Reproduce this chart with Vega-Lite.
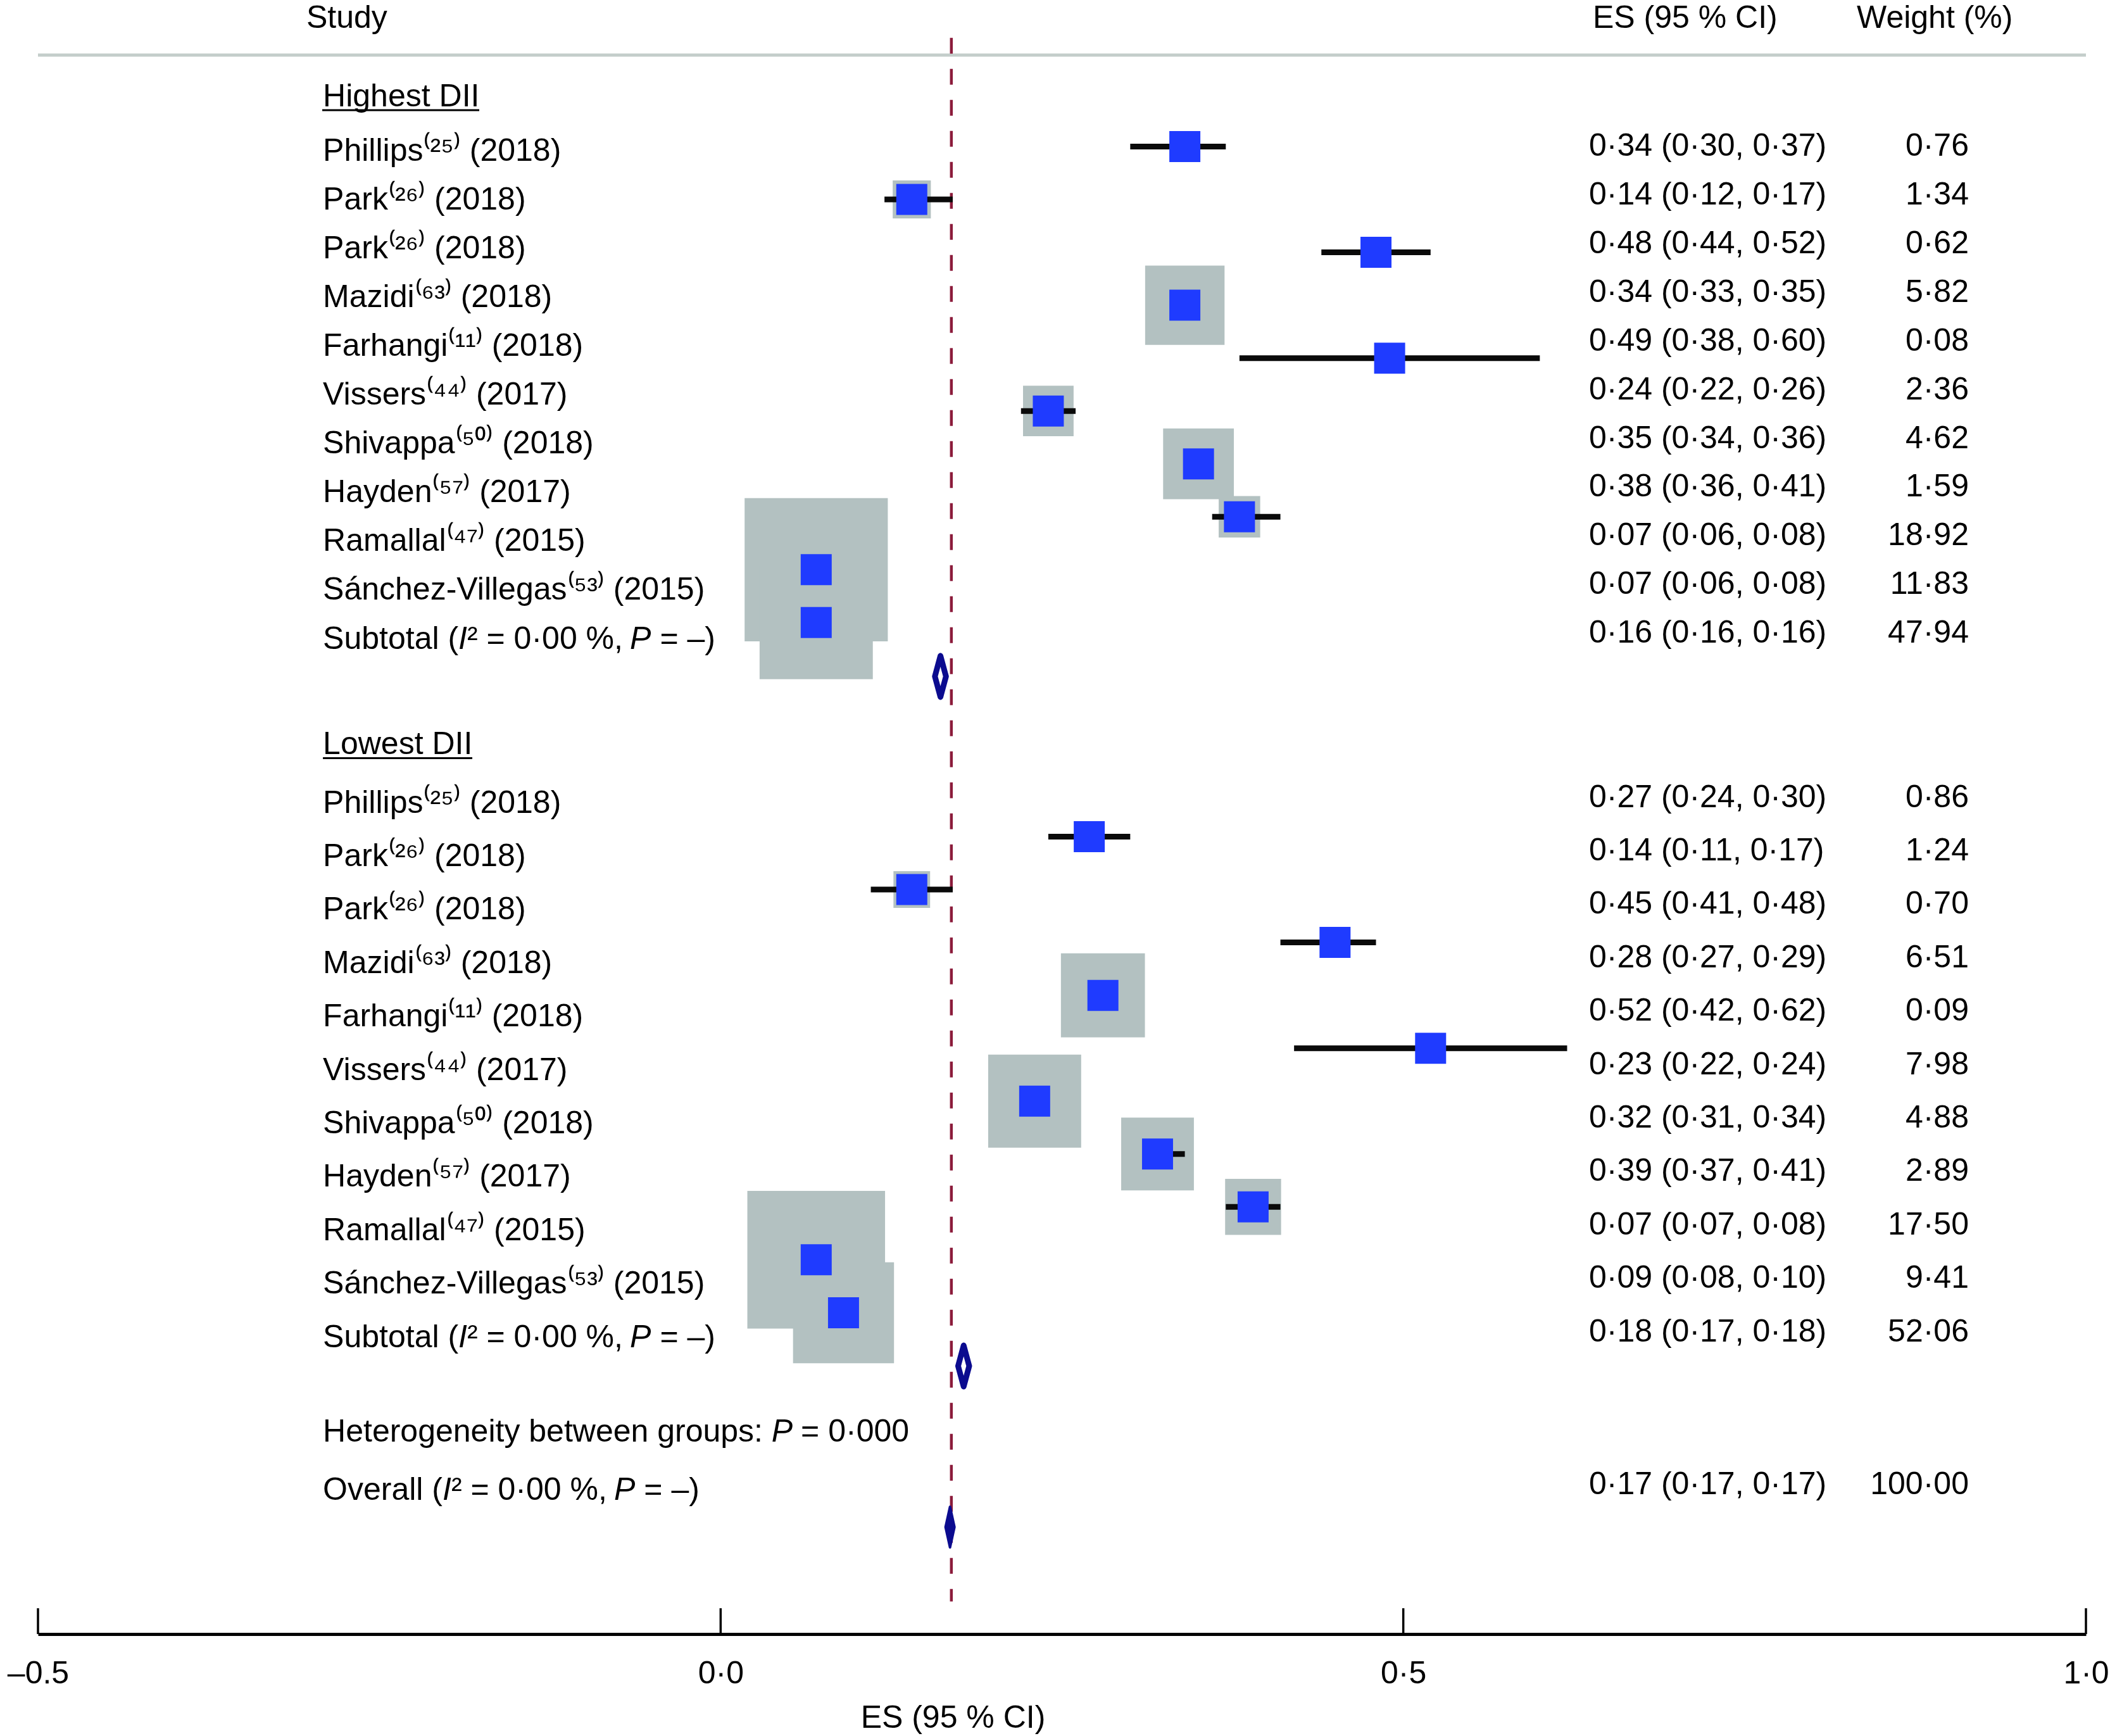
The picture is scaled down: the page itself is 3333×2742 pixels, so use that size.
{
  "$schema": "https://vega.github.io/schema/vega-lite/v6.json",
  "width": 3235,
  "height": 2581,
  "autosize": {"type": "none"},
  "padding": {"left": 60, "top": 0, "right": 38, "bottom": 161},
  "background": "white",
  "config": {"view": {"stroke": null}, "font": "Liberation Sans"},
  "datasets": {
    "studies": [
      {"grp": "Highest DII", "study": "Phillips (2018)", "es": 0.34, "lo": 0.30, "hi": 0.37, "w": 0.76, "ym": 10.89},
      {"grp": "Highest DII", "study": "Park (2018) a", "es": 0.14, "lo": 0.12, "hi": 0.17, "w": 1.34, "ym": 14.82},
      {"grp": "Highest DII", "study": "Park (2018) b", "es": 0.48, "lo": 0.44, "hi": 0.52, "w": 0.62, "ym": 18.75},
      {"grp": "Highest DII", "study": "Mazidi (2018)", "es": 0.34, "lo": 0.33, "hi": 0.35, "w": 5.82, "ym": 22.68},
      {"grp": "Highest DII", "study": "Farhangi (2018)", "es": 0.49, "lo": 0.38, "hi": 0.60, "w": 0.08, "ym": 26.61},
      {"grp": "Highest DII", "study": "Vissers (2017)", "es": 0.24, "lo": 0.22, "hi": 0.26, "w": 2.36, "ym": 30.54},
      {"grp": "Highest DII", "study": "Shivappa (2018)", "es": 0.35, "lo": 0.34, "hi": 0.36, "w": 4.62, "ym": 34.47},
      {"grp": "Highest DII", "study": "Hayden (2017)", "es": 0.38, "lo": 0.36, "hi": 0.41, "w": 1.59, "ym": 38.40},
      {"grp": "Highest DII", "study": "Ramallal (2015)", "es": 0.07, "lo": 0.06, "hi": 0.08, "w": 18.92, "ym": 42.33},
      {"grp": "Highest DII", "study": "Sánchez-Villegas (2015)", "es": 0.07, "lo": 0.06, "hi": 0.08, "w": 11.83, "ym": 46.26},
      {"grp": "Lowest DII", "study": "Phillips (2018)", "es": 0.27, "lo": 0.24, "hi": 0.30, "w": 0.86, "ym": 62.17},
      {"grp": "Lowest DII", "study": "Park (2018) a", "es": 0.14, "lo": 0.11, "hi": 0.17, "w": 1.24, "ym": 66.10},
      {"grp": "Lowest DII", "study": "Park (2018) b", "es": 0.45, "lo": 0.41, "hi": 0.48, "w": 0.70, "ym": 70.03},
      {"grp": "Lowest DII", "study": "Mazidi (2018)", "es": 0.28, "lo": 0.27, "hi": 0.29, "w": 6.51, "ym": 73.96},
      {"grp": "Lowest DII", "study": "Farhangi (2018)", "es": 0.52, "lo": 0.42, "hi": 0.62, "w": 0.09, "ym": 77.89},
      {"grp": "Lowest DII", "study": "Vissers (2017)", "es": 0.23, "lo": 0.22, "hi": 0.24, "w": 7.98, "ym": 81.82},
      {"grp": "Lowest DII", "study": "Shivappa (2018)", "es": 0.32, "lo": 0.31, "hi": 0.34, "w": 4.88, "ym": 85.75},
      {"grp": "Lowest DII", "study": "Hayden (2017)", "es": 0.39, "lo": 0.37, "hi": 0.41, "w": 2.89, "ym": 89.68},
      {"grp": "Lowest DII", "study": "Ramallal (2015)", "es": 0.07, "lo": 0.07, "hi": 0.08, "w": 17.50, "ym": 93.61},
      {"grp": "Lowest DII", "study": "Sánchez-Villegas (2015)", "es": 0.09, "lo": 0.08, "hi": 0.10, "w": 9.41, "ym": 97.54}
    ],
    "pooled": [
      {"name": "Subtotal Highest DII", "kind": "subtotal", "es": 0.161, "ym": 50.26},
      {"name": "Subtotal Lowest DII", "kind": "subtotal", "es": 0.178, "ym": 101.5},
      {"name": "Overall", "kind": "overall", "es": 0.168, "ym": 113.47}
    ],
    "left": [
      {"text": "Highest DII", "y": 7.19},
      {"text": "Phillips⁽²⁵⁾ (2018)", "y": 11.26},
      {"text": "Park⁽²⁶⁾ (2018)", "y": 14.88},
      {"text": "Park⁽²⁶⁾ (2018)", "y": 18.50},
      {"text": "Mazidi⁽⁶³⁾ (2018)", "y": 22.12},
      {"text": "Farhangi⁽¹¹⁾ (2018)", "y": 25.74},
      {"text": "Vissers⁽⁴⁴⁾ (2017)", "y": 29.36},
      {"text": "Shivappa⁽⁵⁰⁾ (2018)", "y": 32.98},
      {"text": "Hayden⁽⁵⁷⁾ (2017)", "y": 36.60},
      {"text": "Ramallal⁽⁴⁷⁾ (2015)", "y": 40.22},
      {"text": "Sánchez-Villegas⁽⁵³⁾ (2015)", "y": 43.84},
      {"text": "Subtotal (", "y": 47.5},
      {"text": "Lowest DII", "y": 55.33},
      {"text": "Phillips⁽²⁵⁾ (2018)", "y": 59.68},
      {"text": "Park⁽²⁶⁾ (2018)", "y": 63.65},
      {"text": "Park⁽²⁶⁾ (2018)", "y": 67.62},
      {"text": "Mazidi⁽⁶³⁾ (2018)", "y": 71.59},
      {"text": "Farhangi⁽¹¹⁾ (2018)", "y": 75.56},
      {"text": "Vissers⁽⁴⁴⁾ (2017)", "y": 79.53},
      {"text": "Shivappa⁽⁵⁰⁾ (2018)", "y": 83.50},
      {"text": "Hayden⁽⁵⁷⁾ (2017)", "y": 87.47},
      {"text": "Ramallal⁽⁴⁷⁾ (2015)", "y": 91.44},
      {"text": "Sánchez-Villegas⁽⁵³⁾ (2015)", "y": 95.41},
      {"text": "Subtotal (", "y": 99.4},
      {"text": "Heterogeneity between groups:", "y": 106.43},
      {"text": "Overall (", "y": 110.73}
    ],
    "stats": [
      {"line": "sub", "i": "I", "mid": "² = 0·00 %,", "p": "P", "end": "= –)", "y": 47.5},
      {"line": "sub", "i": "I", "mid": "² = 0·00 %,", "p": "P", "end": "= –)", "y": 99.4},
      {"line": "overall", "i": "I", "mid": "² = 0·00 %,", "p": "P", "end": "= –)", "y": 110.73},
      {"line": "het", "i": "", "mid": "", "p": "P", "end": "= 0·000", "y": 106.43}
    ],
    "right": [
      {"ci": "0·34 (0·30, 0·37)", "wt": "0·76", "y": 10.86},
      {"ci": "0·14 (0·12, 0·17)", "wt": "1·34", "y": 14.48},
      {"ci": "0·48 (0·44, 0·52)", "wt": "0·62", "y": 18.10},
      {"ci": "0·34 (0·33, 0·35)", "wt": "5·82", "y": 21.72},
      {"ci": "0·49 (0·38, 0·60)", "wt": "0·08", "y": 25.34},
      {"ci": "0·24 (0·22, 0·26)", "wt": "2·36", "y": 28.96},
      {"ci": "0·35 (0·34, 0·36)", "wt": "4·62", "y": 32.58},
      {"ci": "0·38 (0·36, 0·41)", "wt": "1·59", "y": 36.20},
      {"ci": "0·07 (0·06, 0·08)", "wt": "18·92", "y": 39.82},
      {"ci": "0·07 (0·06, 0·08)", "wt": "11·83", "y": 43.44},
      {"ci": "0·16 (0·16, 0·16)", "wt": "47·94", "y": 47.06},
      {"ci": "0·27 (0·24, 0·30)", "wt": "0·86", "y": 59.26},
      {"ci": "0·14 (0·11, 0·17)", "wt": "1·24", "y": 63.23},
      {"ci": "0·45 (0·41, 0·48)", "wt": "0·70", "y": 67.20},
      {"ci": "0·28 (0·27, 0·29)", "wt": "6·51", "y": 71.17},
      {"ci": "0·52 (0·42, 0·62)", "wt": "0·09", "y": 75.14},
      {"ci": "0·23 (0·22, 0·24)", "wt": "7·98", "y": 79.11},
      {"ci": "0·32 (0·31, 0·34)", "wt": "4·88", "y": 83.08},
      {"ci": "0·39 (0·37, 0·41)", "wt": "2·89", "y": 87.05},
      {"ci": "0·07 (0·07, 0·08)", "wt": "17·50", "y": 91.02},
      {"ci": "0·09 (0·08, 0·10)", "wt": "9·41", "y": 94.99},
      {"ci": "0·18 (0·17, 0·18)", "wt": "52·06", "y": 98.96},
      {"ci": "0·17 (0·17, 0·17)", "wt": "100·00", "y": 110.31}
    ],
    "ticks": [{"t": -0.5}, {"t": 0}, {"t": 0.5}, {"t": 1}]
  },
  "layer": [
    {
      "data": {"name": "ticks"},
      "mark": {"type": "rule", "color": "black", "strokeWidth": 3.5},
      "encoding": {
        "x": {"field": "t", "type": "quantitative", "scale": {"domain": [-0.5, 1], "nice": false, "zero": false},
          "axis": {"values": [-0.5, 0, 0.5, 1], "labelExpr": "datum.value == -0.5 ? '–0.5' : replace(format(datum.value, '.1f'), '.', '·')",
            "grid": false, "ticks": false, "tickSize": 0, "domainColor": "black", "domainWidth": 5,
            "labelFont": "Liberation Sans", "labelFontSize": 50, "labelColor": "black", "labelPadding": 37, "labelFlush": false,
            "title": "ES (95 % CI)", "titleFont": "Liberation Sans", "titleFontSize": 50, "titleFontWeight": "normal", "titleColor": "black",
            "titleX": 1445, "titleY": 107, "titleAlign": "center", "titleBaseline": "top"}},
        "y": {"datum": 119.5, "type": "quantitative", "scale": {"domain": [0, 121.42], "reverse": true, "nice": false, "zero": false}, "axis": null},
        "y2": {"datum": 121.42}
      }
    },
    {
      "data": {"values": [{}]},
      "mark": {"type": "rule", "color": "#c4cdca", "strokeWidth": 5},
      "encoding": {
        "x": {"datum": -0.5, "type": "quantitative", "title": "ES (95 % CI)"},
        "x2": {"datum": 1},
        "y": {"datum": 4.09, "type": "quantitative", "axis": null}
      }
    },
    {
      "data": {"values": [{}]},
      "mark": {"type": "rule", "color": "#8c1c3c", "strokeWidth": 4.5, "strokeDash": [25, 24], "strokeDashOffset": 36},
      "encoding": {
        "x": {"datum": 0.169, "type": "quantitative", "title": "ES (95 % CI)"},
        "y": {"datum": 2.2, "type": "quantitative", "axis": null},
        "y2": {"datum": 119}
      }
    },
    {
      "data": {"name": "studies"},
      "mark": {"type": "square", "filled": true, "color": "#b3c1c1", "opacity": 1, "strokeWidth": 0},
      "encoding": {
        "x": {"field": "es", "type": "quantitative", "title": "ES (95 % CI)"},
        "y": {"field": "ym", "type": "quantitative", "axis": null},
        "size": {"field": "w", "type": "quantitative", "scale": {"type": "linear", "domain": [0, 20], "range": [0, 54080]}, "legend": null}
      }
    },
    {
      "data": {"name": "studies"},
      "mark": {"type": "rule", "color": "#0a0a0a", "strokeWidth": 9},
      "encoding": {
        "x": {"field": "lo", "type": "quantitative", "title": "ES (95 % CI)"},
        "x2": {"field": "hi"},
        "y": {"field": "ym", "type": "quantitative", "axis": null}
      }
    },
    {
      "data": {"name": "studies"},
      "mark": {"type": "square", "filled": true, "color": "#1f3bff", "opacity": 1, "size": 2400},
      "encoding": {
        "x": {"field": "es", "type": "quantitative", "title": "ES (95 % CI)"},
        "y": {"field": "ym", "type": "quantitative", "axis": null}
      }
    },
    {
      "data": {"name": "pooled"},
      "transform": [{"filter": "datum.kind == 'subtotal'"}],
      "mark": {"type": "point", "shape": "M0,-1L0.27,0L0,1L-0.27,0Z", "filled": true, "fill": "white", "stroke": "#0b0b8f", "strokeWidth": 9, "strokeJoin": "round", "size": 4225, "opacity": 1},
      "encoding": {
        "x": {"field": "es", "type": "quantitative", "title": "ES (95 % CI)"},
        "y": {"field": "ym", "type": "quantitative", "axis": null}
      }
    },
    {
      "data": {"name": "pooled"},
      "transform": [{"filter": "datum.kind == 'overall'"}],
      "mark": {"type": "point", "shape": "M0,-1L0.22,0L0,1L-0.22,0Z", "filled": true, "fill": "#0b0b8f", "stroke": "#0b0b8f", "strokeWidth": 4, "strokeJoin": "round", "size": 4096, "opacity": 1},
      "encoding": {
        "x": {"field": "es", "type": "quantitative", "title": "ES (95 % CI)"},
        "y": {"field": "ym", "type": "quantitative", "axis": null}
      }
    },
    {
      "data": {"name": "left"},
      "mark": {"type": "text", "align": "left", "baseline": "middle", "font": "Liberation Sans", "fontSize": 50, "color": "black"},
      "encoding": {
        "x": {"datum": -0.2913, "type": "quantitative", "title": "ES (95 % CI)"},
        "y": {"field": "y", "type": "quantitative", "axis": null},
        "text": {"field": "text"}
      }
    },
    {
      "data": {"name": "stats"},
      "transform": [{"filter": "datum.line == 'sub'"}],
      "mark": {"type": "text", "align": "left", "baseline": "middle", "font": "Liberation Sans", "fontSize": 50, "fontStyle": "italic", "color": "black"},
      "encoding": {
        "x": {"datum": -0.19207, "type": "quantitative", "title": "ES (95 % CI)"},
        "y": {"field": "y", "type": "quantitative", "axis": null},
        "text": {"field": "i"}
      }
    },
    {
      "data": {"name": "stats"},
      "transform": [{"filter": "datum.line == 'sub'"}],
      "mark": {"type": "text", "align": "left", "baseline": "middle", "font": "Liberation Sans", "fontSize": 50, "color": "black"},
      "encoding": {
        "x": {"datum": -0.18563, "type": "quantitative", "title": "ES (95 % CI)"},
        "y": {"field": "y", "type": "quantitative", "axis": null},
        "text": {"field": "mid"}
      }
    },
    {
      "data": {"name": "stats"},
      "transform": [{"filter": "datum.line == 'sub'"}],
      "mark": {"type": "text", "align": "left", "baseline": "middle", "font": "Liberation Sans", "fontSize": 50, "fontStyle": "italic", "color": "black"},
      "encoding": {
        "x": {"datum": -0.06642, "type": "quantitative", "title": "ES (95 % CI)"},
        "y": {"field": "y", "type": "quantitative", "axis": null},
        "text": {"field": "p"}
      }
    },
    {
      "data": {"name": "stats"},
      "transform": [{"filter": "datum.line == 'sub'"}],
      "mark": {"type": "text", "align": "left", "baseline": "middle", "font": "Liberation Sans", "fontSize": 50, "color": "black"},
      "encoding": {
        "x": {"datum": -0.04449, "type": "quantitative", "title": "ES (95 % CI)"},
        "y": {"field": "y", "type": "quantitative", "axis": null},
        "text": {"field": "end"}
      }
    },
    {
      "data": {"name": "stats"},
      "transform": [{"filter": "datum.line == 'overall'"}],
      "mark": {"type": "text", "align": "left", "baseline": "middle", "font": "Liberation Sans", "fontSize": 50, "fontStyle": "italic", "color": "black"},
      "encoding": {
        "x": {"datum": -0.20371, "type": "quantitative", "title": "ES (95 % CI)"},
        "y": {"field": "y", "type": "quantitative", "axis": null},
        "text": {"field": "i"}
      }
    },
    {
      "data": {"name": "stats"},
      "transform": [{"filter": "datum.line == 'overall'"}],
      "mark": {"type": "text", "align": "left", "baseline": "middle", "font": "Liberation Sans", "fontSize": 50, "color": "black"},
      "encoding": {
        "x": {"datum": -0.19727, "type": "quantitative", "title": "ES (95 % CI)"},
        "y": {"field": "y", "type": "quantitative", "axis": null},
        "text": {"field": "mid"}
      }
    },
    {
      "data": {"name": "stats"},
      "transform": [{"filter": "datum.line == 'overall'"}],
      "mark": {"type": "text", "align": "left", "baseline": "middle", "font": "Liberation Sans", "fontSize": 50, "fontStyle": "italic", "color": "black"},
      "encoding": {
        "x": {"datum": -0.07805, "type": "quantitative", "title": "ES (95 % CI)"},
        "y": {"field": "y", "type": "quantitative", "axis": null},
        "text": {"field": "p"}
      }
    },
    {
      "data": {"name": "stats"},
      "transform": [{"filter": "datum.line == 'overall'"}],
      "mark": {"type": "text", "align": "left", "baseline": "middle", "font": "Liberation Sans", "fontSize": 50, "color": "black"},
      "encoding": {
        "x": {"datum": -0.05612, "type": "quantitative", "title": "ES (95 % CI)"},
        "y": {"field": "y", "type": "quantitative", "axis": null},
        "text": {"field": "end"}
      }
    },
    {
      "data": {"name": "stats"},
      "transform": [{"filter": "datum.line == 'het'"}],
      "mark": {"type": "text", "align": "left", "baseline": "middle", "font": "Liberation Sans", "fontSize": 50, "fontStyle": "italic", "color": "black"},
      "encoding": {
        "x": {"datum": 0.03731, "type": "quantitative", "title": "ES (95 % CI)"},
        "y": {"field": "y", "type": "quantitative", "axis": null},
        "text": {"field": "p"}
      }
    },
    {
      "data": {"name": "stats"},
      "transform": [{"filter": "datum.line == 'het'"}],
      "mark": {"type": "text", "align": "left", "baseline": "middle", "font": "Liberation Sans", "fontSize": 50, "color": "black"},
      "encoding": {
        "x": {"datum": 0.05878, "type": "quantitative", "title": "ES (95 % CI)"},
        "y": {"field": "y", "type": "quantitative", "axis": null},
        "text": {"field": "end"}
      }
    },
    {
      "data": {"name": "right"},
      "mark": {"type": "text", "align": "left", "baseline": "middle", "font": "Liberation Sans", "fontSize": 50, "color": "black"},
      "encoding": {
        "x": {"datum": 0.636, "type": "quantitative", "title": "ES (95 % CI)"},
        "y": {"field": "y", "type": "quantitative", "axis": null},
        "text": {"field": "ci"}
      }
    },
    {
      "data": {"name": "right"},
      "mark": {"type": "text", "align": "right", "baseline": "middle", "font": "Liberation Sans", "fontSize": 50, "color": "black"},
      "encoding": {
        "x": {"datum": 0.9142, "type": "quantitative", "title": "ES (95 % CI)"},
        "y": {"field": "y", "type": "quantitative", "axis": null},
        "text": {"field": "wt"}
      }
    },
    {
      "data": {"values": [{}]},
      "mark": {"type": "text", "text": "Study", "align": "left", "baseline": "middle", "font": "Liberation Sans", "fontSize": 50, "color": "black"},
      "encoding": {
        "x": {"datum": -0.3034, "type": "quantitative", "title": "ES (95 % CI)"},
        "y": {"datum": 1.38, "type": "quantitative", "axis": null}
      }
    },
    {
      "data": {"values": [{}]},
      "mark": {"type": "text", "text": "ES (95 % CI)", "align": "left", "baseline": "middle", "font": "Liberation Sans", "fontSize": 50, "color": "black"},
      "encoding": {
        "x": {"datum": 0.6388, "type": "quantitative", "title": "ES (95 % CI)"},
        "y": {"datum": 1.38, "type": "quantitative", "axis": null}
      }
    },
    {
      "data": {"values": [{}]},
      "mark": {"type": "text", "text": "Weight (%)", "align": "left", "baseline": "middle", "font": "Liberation Sans", "fontSize": 50, "color": "black"},
      "encoding": {
        "x": {"datum": 0.8322, "type": "quantitative", "title": "ES (95 % CI)"},
        "y": {"datum": 1.38, "type": "quantitative", "axis": null}
      }
    },
    {
      "data": {"values": [{}]},
      "mark": {"type": "rule", "color": "black", "strokeWidth": 3},
      "encoding": {
        "x": {"datum": -0.2918, "type": "quantitative", "title": "ES (95 % CI)"},
        "x2": {"datum": -0.1768},
        "y": {"datum": 8.19, "type": "quantitative", "axis": null}
      }
    },
    {
      "data": {"values": [{}]},
      "mark": {"type": "rule", "color": "black", "strokeWidth": 3},
      "encoding": {
        "x": {"datum": -0.2913, "type": "quantitative", "title": "ES (95 % CI)"},
        "x2": {"datum": -0.1819},
        "y": {"datum": 56.33, "type": "quantitative", "axis": null}
      }
    }
  ]
}
